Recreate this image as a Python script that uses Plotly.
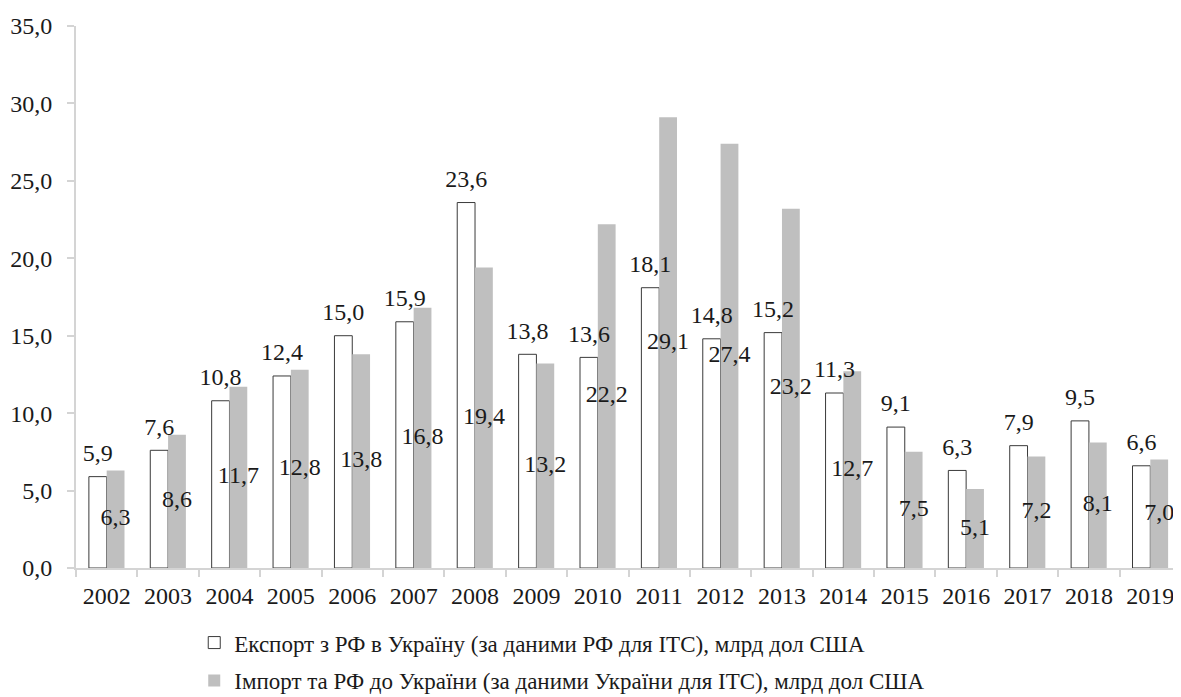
import plotly.graph_objects as go

years = [str(y) for y in range(2002, 2020)]
export_rf = [5.9, 7.6, 10.8, 12.4, 15.0, 15.9, 23.6, 13.8, 13.6, 18.1, 14.8, 15.2, 11.3, 9.1, 6.3, 7.9, 9.5, 6.6]
import_ua = [6.3, 8.6, 11.7, 12.8, 13.8, 16.8, 19.4, 13.2, 22.2, 29.1, 27.4, 23.2, 12.7, 7.5, 5.1, 7.2, 8.1, 7.0]
name_export = "Експорт з РФ в Україну (за даними РФ для ІТС), млрд дол США"
name_import = "Імпорт та РФ до України (за даними України для ІТС), млрд дол США"

FONT = '"Liberation Serif", "Times New Roman", "DejaVu Serif", serif'
AXIS_COLOR = "#d4d4d4"
TXT = "#1a1a1a"
BW = 0.29  # bar width in category units

idx = list(range(len(years)))
x_exp = [i - BW / 2 for i in idx]
x_imp = [i + BW / 2 for i in idx]
half_imp = [v / 2 for v in import_ua]
fmt = lambda v: f"{v:.1f}".replace(".", ",")

fig = go.Figure()
fig.add_trace(go.Bar(
    x=x_exp, y=export_rf, name=name_export, width=BW,
    marker=dict(color="white", line=dict(color="#3a3a3a", width=1)),
    legendgroup="a",
))
fig.add_trace(go.Bar(
    x=x_imp, y=import_ua, name=name_import, width=BW,
    marker=dict(color="#bfbfbf", line=dict(width=0)),
    legendgroup="b",
))
fig.add_trace(go.Scatter(
    x=x_exp, y=export_rf, mode="markers+text", text=[fmt(v) for v in export_rf],
    marker=dict(size=14, opacity=0),
    textposition="top center", textfont=dict(family=FONT, size=24, color=TXT),
    showlegend=False, cliponaxis=False, hoverinfo="skip",
))
fig.add_trace(go.Scatter(
    x=x_imp, y=half_imp, mode="text", text=[fmt(v) for v in import_ua],
    textposition="middle center", textfont=dict(family=FONT, size=24, color=TXT),
    showlegend=False, cliponaxis=False, hoverinfo="skip",
))

# the page body adds an 8px margin, so the figure is drawn 8px smaller
fig.update_layout(
    width=1173, height=689,
    paper_bgcolor="white", plot_bgcolor="white",
    separators=", ",
    font=dict(family=FONT, size=24, color=TXT),
    margin=dict(l=68, r=0, t=18, b=129, autoexpand=False),
    barmode="overlay",
    showlegend=True,
    legend=dict(
        orientation="v", traceorder="grouped", x=0.107, xanchor="left", y=-0.098, yanchor="top",
        font=dict(family=FONT, size=23, color=TXT),
        tracegroupgap=5, itemwidth=30, bgcolor="rgba(0,0,0,0)",
    ),
    xaxis=dict(
        range=[-0.5, len(years) - 0.5], showgrid=False, showline=True, linecolor=AXIS_COLOR, linewidth=2,
        zeroline=False, tickmode="array", tickvals=idx, ticktext=years, ticks="",
        ticklabelstandoff=5, automargin=False,
        tickfont=dict(family=FONT, size=24, color=TXT),
        minor=dict(tickmode="array", tickvals=[i - 0.5 for i in idx] + [len(years) - 0.5],
                   ticks="outside", ticklen=7, tickcolor=AXIS_COLOR, tickwidth=2, showgrid=False),
    ),
    yaxis=dict(
        range=[0, 35], dtick=5, tickformat=".1f", showgrid=False, zeroline=False,
        showline=True, linecolor=AXIS_COLOR, linewidth=2,
        ticks="outside", ticklen=7, tickcolor=AXIS_COLOR, tickwidth=2,
        ticklabelstandoff=10, automargin=False,
        tickfont=dict(family=FONT, size=24, color=TXT),
    ),
)

fig.write_html("out.html")
